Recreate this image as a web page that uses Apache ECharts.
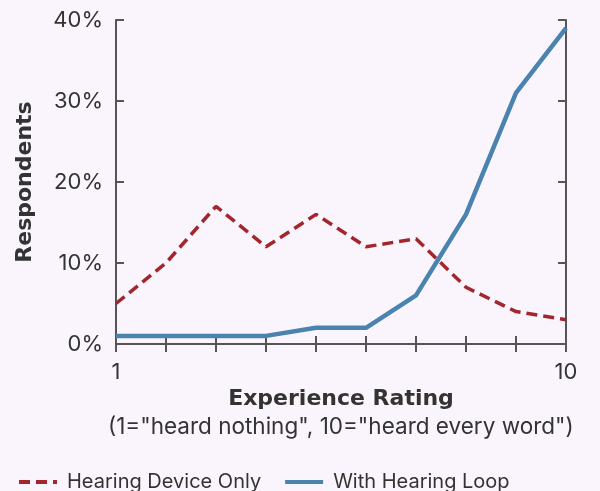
<!DOCTYPE html>
<html>
<head>
<meta charset="utf-8">
<script src="https://cdn.jsdelivr.net/npm/echarts@6/dist/echarts.min.js"></script>
<style>
  html, body { margin: 0; padding: 0; background: #faf5fc; }
  #main { width: 600px; height: 491px; }
</style>
</head>
<body>
<div id="main"></div>
<script>
// experience rating 1..10
var ratings = [1, 2, 3, 4, 5, 6, 7, 8, 9, 10];
// % respondents
var deviceOnly = [5, 10, 17, 12, 16, 12, 13, 7, 4, 3];
var withLoop = [1, 1, 1, 1, 2, 2, 6, 16, 31, 39];

var font = 'Inter, "Liberation Sans", sans-serif';
var boldFont = '"DejaVu Sans", sans-serif';
var axisColor = '#555';
var textColor = '#333';

function pairs(vals) {
  return ratings.map(function (r, i) { return [r, vals[i]]; });
}

var chart = echarts.init(document.getElementById('main'));

var boxAxis = {
  axisLine: { show: true, lineStyle: { color: axisColor, width: 2 } },
  axisTick: { show: true, inside: true, length: 8, lineStyle: { color: axisColor, width: 2 } },
  splitLine: { show: false }
};

chart.setOption({
  backgroundColor: '#faf5fc',
  textStyle: { fontFamily: font },
  grid: { left: 116, right: 34, top: 20, bottom: 147 },
  legend: {
    left: 12,
    top: 467,
    itemWidth: 38,
    itemHeight: 14,
    itemGap: 22,
    itemStyle: { opacity: 0 },
    lineStyle: { width: 4 },
    textStyle: { fontSize: 20, color: textColor, fontFamily: font, padding: [0, 0, 0, 5] },
    data: ['Hearing Device Only', 'With Hearing Loop']
  },
  graphic: [{
    type: 'text',
    left: 108,
    top: 416,
    style: {
      text: '(1="heard nothing", 10="heard every word")',
      font: '22.5px ' + font,
      fill: textColor
    }
  }],
  xAxis: [
    Object.assign({
      type: 'value', min: 1, max: 10, interval: 1,
      name: 'Experience Rating',
      nameLocation: 'middle',
      nameGap: 43,
      nameTextStyle: { fontSize: 22, fontWeight: 'bold', color: textColor, fontFamily: boldFont },
      axisLabel: {
        fontSize: 22, color: textColor, margin: 17,
        formatter: function (v) { return (v === 1 || v === 10) ? String(v) : ''; }
      }
    }, boxAxis),
    Object.assign({
      type: 'value', min: 1, max: 10, interval: 1, position: 'top',
      axisLabel: { show: false }
    }, boxAxis)
  ],
  yAxis: [
    Object.assign({
      type: 'value', min: 0, max: 40, interval: 10,
      name: 'Respondents',
      nameLocation: 'middle',
      nameGap: 80,
      nameTextStyle: { fontSize: 22, fontWeight: 'bold', color: textColor, fontFamily: boldFont },
      axisLabel: { fontSize: 22, color: textColor, margin: 13, formatter: '{value}%' }
    }, boxAxis),
    Object.assign({
      type: 'value', min: 0, max: 40, interval: 10, position: 'right',
      axisLabel: { show: false }
    }, boxAxis)
  ],
  series: [
    {
      name: 'Hearing Device Only',
      type: 'line',
      symbol: 'none',
      data: pairs(deviceOnly),
      itemStyle: { color: '#a3262c' },
      lineStyle: { color: '#a3262c', width: 3.5, type: [11, 6] },
      z: 3
    },
    {
      name: 'With Hearing Loop',
      type: 'line',
      symbol: 'none',
      data: pairs(withLoop),
      itemStyle: { color: '#4a82b0' },
      lineStyle: { color: '#4a82b0', width: 4.5 },
      z: 4
    }
  ]
});
</script>
</body>
</html>
